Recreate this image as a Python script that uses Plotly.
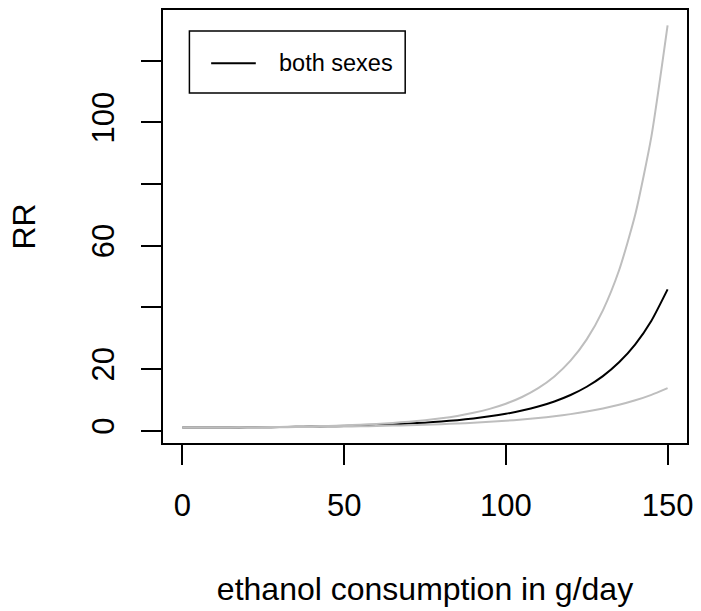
import plotly.graph_objects as go

# ---- data ----
ethanol = [0, 5, 10, 15, 20, 25, 30, 35, 40, 45, 50, 55, 60, 65, 70, 75,
           80, 85, 90, 95, 100, 105, 110, 115, 120, 125, 130, 135, 140, 145, 150]

rr_both = [1.000, 1.004, 1.017, 1.039, 1.070, 1.112, 1.165, 1.232, 1.313, 1.411,
           1.530, 1.672, 1.844, 2.051, 2.300, 2.602, 2.968, 3.415, 3.963, 4.638,
           5.474, 6.516, 7.822, 9.472, 11.565, 14.243, 17.69, 22.16, 27.99, 35.66, 45.82]

rr_upper = [1.000, 1.005, 1.022, 1.050, 1.091, 1.145, 1.215, 1.304, 1.415, 1.551,
            1.719, 1.927, 2.183, 2.499, 2.893, 3.386, 4.005, 4.789, 5.790, 7.075,
            8.741, 10.917, 13.781, 17.588, 22.69, 29.59, 39.02, 52.00, 70.07, 95.43, 131.4]

rr_lower = [1.000, 1.003, 1.012, 1.027, 1.048, 1.076, 1.111, 1.154, 1.205, 1.266,
            1.339, 1.423, 1.522, 1.637, 1.771, 1.928, 2.110, 2.323, 2.572, 2.866,
            3.211, 3.618, 4.102, 4.678, 5.364, 6.189, 7.181, 8.381, 9.839, 11.618, 13.80]

x_ticks = [0, 50, 100, 150]
x_tick_labels = ["0", "50", "100", "150"]
y_ticks = [0, 20, 40, 60, 80, 100, 120]
y_tick_labels = ["0", "20", "", "60", "", "100", ""]

legend_label = "both sexes"
x_title = "ethanol consumption in g/day"
y_title = "RR"

FONT = "Liberation Sans, Arial, Helvetica, sans-serif"
GREY = "#bebebe"

fig = go.Figure()
fig.add_trace(go.Scatter(x=ethanol, y=rr_both, mode="lines", name=legend_label,
                         line=dict(color="black", width=2, shape="spline", smoothing=0.6),
                         showlegend=False))
fig.add_trace(go.Scatter(x=ethanol, y=rr_upper, mode="lines", name="upper",
                         line=dict(color=GREY, width=2, shape="spline", smoothing=0.6),
                         showlegend=False))
fig.add_trace(go.Scatter(x=ethanol, y=rr_lower, mode="lines", name="lower",
                         line=dict(color=GREY, width=2, shape="spline", smoothing=0.6),
                         showlegend=False))

# legend drawn R-style (box, line sample, label)
fig.add_shape(type="rect", xref="paper", yref="paper",
              x0=0.0504, x1=0.4622, y0=0.8083, y1=0.9517,
              line=dict(color="black", width=1.5), fillcolor="white", layer="above")
fig.add_shape(type="line", xref="paper", yref="paper",
              x0=0.0919, x1=0.1771, y0=0.8773, y1=0.8773,
              line=dict(color="black", width=2), layer="above")
fig.add_annotation(xref="paper", yref="paper", x=0.2185, y=0.8773,
                   xanchor="left", yanchor="middle", text=legend_label,
                   showarrow=False, font=dict(family=FONT, size=23.5, color="black"))

fig.update_layout(
    width=701, height=611,
    margin=dict(l=163, r=10, t=8, b=168, pad=0),
    paper_bgcolor="white", plot_bgcolor="white",
    font=dict(family=FONT, color="black"),
    showlegend=False,
)
fig.update_xaxes(
    range=[-6, 156], showgrid=False, zeroline=False,
    showline=True, mirror=True, linecolor="black", linewidth=1.5,
    ticks="outside", ticklen=20, tickwidth=1.5, tickcolor="black",
    tickvals=x_ticks, ticktext=x_tick_labels,
    tickfont=dict(family=FONT, size=31), ticklabelstandoff=14,
    title=dict(text=x_title, font=dict(family=FONT, size=32), standoff=56),
)
fig.update_yaxes(
    range=[-4.0, 136.4], showgrid=False, zeroline=False,
    showline=True, mirror=True, linecolor="black", linewidth=1.5,
    ticks="outside", ticklen=20, tickwidth=1.5, tickcolor="black",
    tickvals=y_ticks, ticktext=y_tick_labels, tickangle=-90,
    tickfont=dict(family=FONT, size=31), ticklabelstandoff=15,
    title=dict(text=y_title, font=dict(family=FONT, size=32), standoff=41),
)

# remove the browser's default body margin so the 701x611 figure fills the window
fig.write_html("out.html",
               config={"displayModeBar": False},
               post_script="document.body.style.margin='0';document.body.style.overflow='hidden';")
